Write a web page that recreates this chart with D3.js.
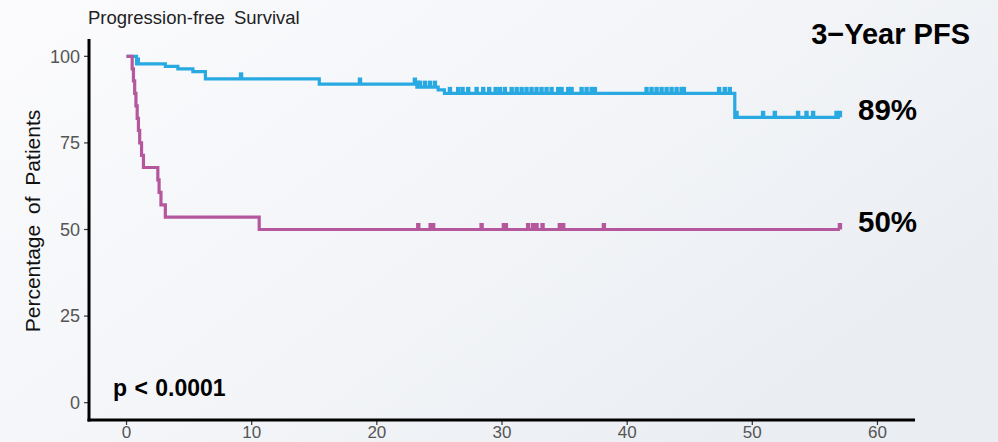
<!DOCTYPE html>
<html>
<head>
<meta charset="utf-8">
<script src="https://cdn.jsdelivr.net/npm/d3@7"></script>
<style>
  html, body { margin: 0; padding: 0; }
  body { width: 998px; height: 442px; overflow: hidden; font-family: "Liberation Sans", Arial, Helvetica, sans-serif; }
</style>
</head>
<body>
<svg id="chart" width="998" height="442"></svg>
<script>
// Kaplan–Meier progression-free survival, two groups (months vs. % of patients)
const xTicks = [0, 10, 20, 30, 40, 50, 60];
const yTicks = [0, 25, 50, 75, 100];

// Group 1 (blue): event times and survival after each event
const blueEventTimes = [0, 0.8, 3.1, 4.1, 5.3, 6.3, 15.4, 23.2, 24.9, 25.4, 48.6];
const blueSurvival   = [100, 97.8, 97.1, 96.4, 95.6, 93.5, 92.0, 91.1, 90.3, 89.3, 82.4];
const blueCensorTimes = [0.9, 9.15, 18.65, 23.04, 23.28, 23.44, 23.84, 24.24, 24.64,
  25.84, 26.5, 26.85, 27.3, 27.97, 28.5, 28.98, 29.49, 29.83, 30.23, 30.77, 31.17,
  31.57, 31.96, 32.36, 32.76, 33.16, 33.56, 33.96, 34.49, 34.76, 35.29, 35.56,
  36.36, 36.76, 37.16, 37.42, 41.55, 41.95, 42.35, 42.75, 43.15, 43.55, 43.95,
  44.35, 44.53, 47.35, 47.8, 48.2, 48.74, 50.86, 51.8, 53.66, 54.33, 54.86, 56.73, 57.0];
const blueLastTime = 57.0;

// Group 2 (magenta)
const magentaEventTimes = [0, 0.45, 0.55, 0.65, 0.75, 0.85, 0.95, 1.05, 1.2, 1.35, 2.5, 2.6, 2.75, 3.1, 10.6];
const magentaSurvival   = [100, 96.4, 92.9, 89.3, 85.7, 82.1, 78.6, 75.0, 71.4, 67.9, 64.3, 60.7, 57.1, 53.6, 50.0];
const magentaCensorTimes = [23.31, 24.3, 24.5, 28.37, 30.15, 30.31, 32.09, 32.49, 32.76,
  33.24, 34.62, 34.89, 38.14, 57.0];
const magentaLastTime = 57.0;

const landmarkMonth = 36; // 3-year PFS

const svg = d3.select("#chart");

// soft slide-style backdrop
const defs = svg.append("defs");
const grad = defs.append("linearGradient").attr("id", "bg")
  .attr("x1", "0%").attr("y1", "0%").attr("x2", "100%").attr("y2", "60%");
grad.append("stop").attr("offset", "0%").attr("stop-color", "#fbfbfd");
grad.append("stop").attr("offset", "55%").attr("stop-color", "#f3f5f8");
grad.append("stop").attr("offset", "100%").attr("stop-color", "#eaedf2");
svg.append("rect").attr("width", 998).attr("height", 442).attr("fill", "url(#bg)");

const x = d3.scaleLinear().domain([-3, 63]).range([89, 915]);
const y = d3.scaleLinear().domain([-5, 105]).range([420, 39]);

// survival value at time t for a step function
function survAt(times, surv, t) {
  let v = surv[0];
  for (let i = 0; i < times.length; i++) if (times[i] <= t) v = surv[i];
  return v;
}

const series = [
  { times: blueEventTimes, surv: blueSurvival, censor: blueCensorTimes, last: blueLastTime, color: "#29a9e1" },
  { times: magentaEventTimes, surv: magentaSurvival, censor: magentaCensorTimes, last: magentaLastTime, color: "#b5579d" }
];

const line = d3.line().x(d => x(d[0])).y(d => y(d[1])).curve(d3.curveStepAfter);

series.forEach(s => {
  const pts = s.times.map((t, i) => [t, s.surv[i]]);
  pts.push([s.last, s.surv[s.surv.length - 1]]);
  svg.append("path").datum(pts)
    .attr("d", line)
    .attr("fill", "none")
    .attr("stroke", s.color)
    .attr("stroke-width", 3.2)
    .attr("stroke-linejoin", "miter");
  svg.append("g").selectAll("rect").data(s.censor).join("rect")
    .attr("x", d => x(d) - 2.2)
    .attr("y", d => y(survAt(s.times, s.surv, d)) - 6.5)
    .attr("width", 4.4)
    .attr("height", 6.5)
    .attr("fill", s.color);
});

// axes
const tickColor = "#333333";
const labelColor = "#555555";

const yAxis = svg.append("g");
yAxis.selectAll("line.tick").data(yTicks).join("line")
  .attr("x1", 84).attr("x2", 89)
  .attr("y1", d => y(d)).attr("y2", d => y(d))
  .attr("stroke", tickColor).attr("stroke-width", 1.2);
yAxis.selectAll("text").data(yTicks).join("text")
  .attr("x", 80).attr("y", d => y(d) + 6.4)
  .attr("text-anchor", "end")
  .attr("font-size", 18)
  .attr("fill", labelColor)
  .text(d => d);

const xAxis = svg.append("g");
xAxis.selectAll("line.tick").data(xTicks).join("line")
  .attr("x1", d => x(d)).attr("x2", d => x(d))
  .attr("y1", 420).attr("y2", 425)
  .attr("stroke", tickColor).attr("stroke-width", 1.2);
xAxis.selectAll("text").data(xTicks).join("text")
  .attr("x", d => x(d)).attr("y", 438)
  .attr("text-anchor", "middle")
  .attr("font-size", 17)
  .attr("fill", labelColor)
  .text(d => d);

svg.append("line").attr("x1", 89).attr("x2", 89).attr("y1", 39).attr("y2", 421.5)
  .attr("stroke", "#000").attr("stroke-width", 3);
svg.append("line").attr("x1", 87.5).attr("x2", 915).attr("y1", 420).attr("y2", 420)
  .attr("stroke", "#000").attr("stroke-width", 3);

// titles and annotations
svg.append("text").attr("x", 88).attr("y", 24)
  .attr("font-size", 18.5).attr("fill", "#222")
  .attr("word-spacing", 4)
  .text("Progression-free Survival");

svg.append("text")
  .attr("transform", "translate(40,221) rotate(-90)")
  .attr("text-anchor", "middle")
  .attr("font-size", 21)
  .attr("word-spacing", 5)
  .attr("fill", "#111")
  .text("Percentage of Patients");

svg.append("text").attr("x", 970).attr("y", 44)
  .attr("text-anchor", "end")
  .attr("font-size", 29).attr("font-weight", "bold").attr("fill", "#000")
  .text("3\u2212Year PFS");

const labelOffsets = [25.6, 2.8];
series.forEach((s, i) => {
  const v = survAt(s.times, s.surv, landmarkMonth);
  svg.append("text").attr("x", 858).attr("y", y(Math.round(v)) + labelOffsets[i])
    .attr("font-size", 29.5).attr("font-weight", "bold").attr("fill", "#000")
    .text(Math.round(v) + "%");
});

svg.append("text").attr("x", 113).attr("y", 396)
  .attr("font-size", 23).attr("font-weight", "bold").attr("fill", "#000")
  .attr("word-spacing", 1)
  .text("p < 0.0001");
</script>
</body>
</html>
